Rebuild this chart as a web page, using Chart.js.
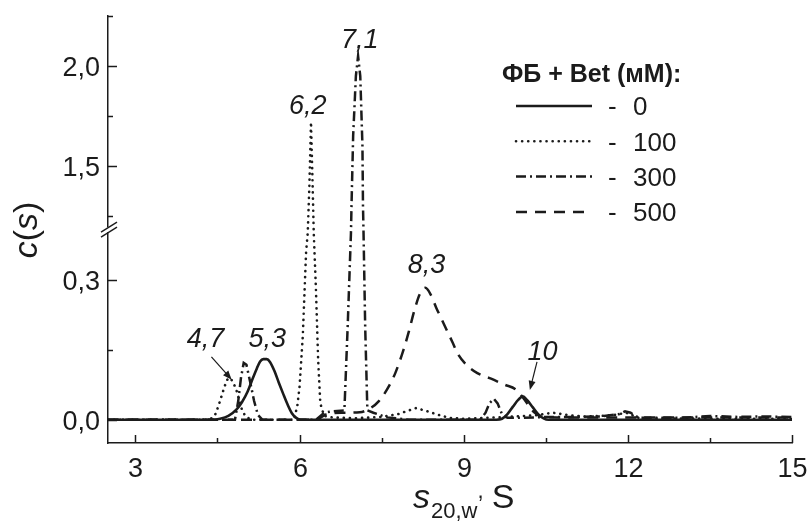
<!DOCTYPE html>
<html>
<head>
<meta charset="utf-8">
<title>c(s)</title>
<script src="https://cdn.jsdelivr.net/npm/chart.js@4.4.0/dist/chart.umd.min.js"></script>
<style>
  html, body { margin: 0; padding: 0; background: #fff; }
</style>
</head>
<body>
<canvas id="myChart" width="810" height="523"></canvas>
<script>
const ink = '#1b1b1b';
const FONT = '"Liberation Sans", Arial, sans-serif';

// ticks
const xTicks = [3, 4.5, 6, 7.5, 9, 10.5, 12, 13.5, 15];
const xTickLabels = ['3', '', '6', '', '9', '', '12', '', '15'];
const yTicks = [0, 0.15, 0.3, 1.25, 1.5, 1.75, 2.0, 2.25];
const yTickLabels = ['0,0', '', '0,3', '', '1,5', '', '2,0', ''];

// broken y axis: values at the break points and their share of the axis height
const yBreakVals = [-0.05, 0.4, 1.2, 2.25];
const yBreakFrac = [0, 0.491, 0.508, 1];

const seriesNames = ['0', '100', '300', '500'];
const legendTitle = 'ФБ + Bet (мМ):';

// 0 mM
const s0x = [2.5, 4.4, 4.55, 4.7, 4.85, 4.95, 5.05, 5.15, 5.22, 5.28, 5.34, 5.4, 5.46, 5.54, 5.62, 5.7, 5.78, 5.86, 5.94, 6.02, 6.2,
             9.6, 9.7, 9.8, 9.9, 10.0, 10.08, 10.16, 10.26, 10.36, 10.46, 10.55, 15];
const s0y = [0, 0, 0.002, 0.008, 0.022, 0.038, 0.06, 0.09, 0.11, 0.125, 0.13, 0.13, 0.124, 0.105, 0.08, 0.056, 0.033, 0.014, 0.004, 0, 0,
             0, 0.002, 0.012, 0.028, 0.043, 0.05, 0.042, 0.027, 0.012, 0.003, 0, 0];

// 100 mM
const s1x = [2.5, 4.35, 4.45, 4.52, 4.6, 4.67, 4.73, 4.79, 4.85, 4.9, 4.95, 5.02, 5.12, 5.9, 5.96, 6.0, 6.06, 6.12, 6.15, 6.18, 6.21,
             6.24, 6.26, 6.3, 6.34, 6.38, 6.45, 6.6, 7.0, 7.5, 7.8, 7.95, 8.13, 8.34, 8.52, 8.74, 9.0, 9.4, 9.8, 10.1, 10.35,
             10.63, 10.9, 11.2, 11.5, 11.75, 11.97, 12.2, 12.6, 13.5, 15];
const s1y = [0, 0, 0.008, 0.03, 0.06, 0.085, 0.09, 0.08, 0.062, 0.042, 0.02, 0.006, 0, 0, 0.03, 0.07, 0.18, 0.36, 0.45, 1.4, 1.72,
             1.4, 0.45, 0.28, 0.13, 0.035, 0.008, 0.005, 0.003, 0.006, 0.012, 0.018, 0.025, 0.018, 0.011, 0.004, 0.002, 0.004, 0.006, 0.008, 0.01,
             0.015, 0.01, 0.007, 0.008, 0.01, 0.015, 0.004, 0.003, 0.002, 0.002];

// 300 mM
const s3x = [2.5, 4.82, 4.88, 4.93, 4.98, 5.03, 5.1, 5.17, 5.24, 5.32, 6.3, 6.45, 6.6, 6.82, 6.88, 6.94, 6.95, 6.98, 7.03, 7.07,
             7.11, 7.15, 7.16, 7.17, 7.2, 7.24, 7.35, 7.6, 8.0, 9.3, 9.4, 9.47, 9.55, 9.62, 9.7, 9.8, 10.0, 10.6, 11.0, 11.5,
             11.85, 11.95, 12.05, 12.2, 13.0, 13.5, 14.0, 14.5, 15];
const s3y = [0, 0, 0.04, 0.09, 0.122, 0.118, 0.08, 0.04, 0.01, 0, 0, 0.015, 0.018, 0.02, 0.2, 0.43, 1.3, 1.65, 1.95, 2.05,
             1.95, 1.6, 1.3, 0.43, 0.2, 0.02, 0.015, 0.005, 0, 0, 0.015, 0.035, 0.045, 0.035, 0.012, 0.004, 0.004, 0.006, 0.006, 0.007,
             0.012, 0.018, 0.015, 0.004, 0.004, 0.008, 0.006, 0.007, 0.006];

// 500 mM
const s5x = [2.5, 6.3, 6.5, 6.8, 7.1, 7.3, 7.45, 7.6, 7.75, 7.9, 8.0, 8.1, 8.2, 8.3, 8.4, 8.5, 8.6, 8.7, 8.8, 8.9, 9.05,
             9.25, 9.5, 9.75, 9.95, 10.1, 10.2, 10.3, 10.45, 10.7, 15];
const s5y = [0, 0, 0.012, 0.015, 0.016, 0.025, 0.04, 0.065, 0.1, 0.15, 0.19, 0.235, 0.27, 0.283, 0.268, 0.24, 0.215, 0.19, 0.165, 0.14, 0.118,
             0.1, 0.088, 0.075, 0.065, 0.045, 0.028, 0.015, 0.006, 0.005, 0.005];

// peak annotations (data coordinates)
const peakLabels = ['4,7', '5,3', '6,2', '7,1', '8,3', '10'];
const peakLabelX = [4.28, 5.41, 6.15, 7.1, 8.32, 10.44];
const peakLabelY = [0.176, 0.176, 1.81, 2.14, 0.336, 0.148];
const arrowFrom = [[4.39, 0.135], [10.34, 0.124]];
const arrowTo = [[4.76, 0.086], [10.21, 0.064]];

const pts = (xs, ys) => xs.map((x, i) => ({x: x, y: ys[i]}));

class BrokenScale extends Chart.LinearScale {
  getPixelForValue(value) {
    let f = 0;
    const v = yBreakVals;
    if (value <= v[0]) f = 0;
    else if (value >= v[v.length - 1]) f = 1;
    else {
      for (let i = 0; i < v.length - 1; i++) {
        if (value >= v[i] && value <= v[i + 1]) {
          f = yBreakFrac[i] + (value - v[i]) / (v[i + 1] - v[i]) * (yBreakFrac[i + 1] - yBreakFrac[i]);
          break;
        }
      }
    }
    return this.getPixelForDecimal(f);
  }
  getValueForPixel(pixel) {
    const f = this.getDecimalForPixel(pixel);
    for (let i = 0; i < yBreakFrac.length - 1; i++) {
      if (f >= yBreakFrac[i] && f <= yBreakFrac[i + 1]) {
        return yBreakVals[i] + (f - yBreakFrac[i]) / (yBreakFrac[i + 1] - yBreakFrac[i]) * (yBreakVals[i + 1] - yBreakVals[i]);
      }
    }
    return f < 0 ? yBreakVals[0] : yBreakVals[yBreakVals.length - 1];
  }
}
BrokenScale.id = 'broken';
BrokenScale.defaults = Chart.LinearScale.defaults;
Chart.register(BrokenScale);

// axis ticks (inside), labels, break mark, titles
const axisDecor = {
  id: 'axisDecor',
  afterDraw(chart) {
    const {ctx, chartArea: a, scales: {x, y}} = chart;
    ctx.save();
    ctx.strokeStyle = ink;
    ctx.fillStyle = ink;
    ctx.lineWidth = 1.5;
    ctx.font = '27px ' + FONT;
    ctx.textBaseline = 'alphabetic';

    yTicks.forEach((v, i) => {
      const py = Math.round(y.getPixelForValue(v)) + 0.5;
      const len = yTickLabels[i] ? 9 : 5;
      ctx.beginPath(); ctx.moveTo(a.left, py); ctx.lineTo(a.left + len, py); ctx.stroke();
      if (yTickLabels[i]) {
        ctx.textAlign = 'right';
        ctx.fillText(yTickLabels[i], a.left - 8, py + 9.7);
      }
    });
    xTicks.forEach((v, i) => {
      const px = Math.round(x.getPixelForValue(v)) + 0.5;
      const len = xTickLabels[i] ? 8 : 5;
      ctx.beginPath(); ctx.moveTo(px, a.bottom); ctx.lineTo(px, a.bottom - len); ctx.stroke();
      if (xTickLabels[i]) {
        ctx.textAlign = 'center';
        ctx.fillText(xTickLabels[i], px, a.bottom + 33.5);
      }
    });

    // break mark on the y axis
    const by = y.getPixelForValue((yBreakVals[1] + yBreakVals[2]) / 2);
    ctx.fillStyle = '#fff';
    ctx.fillRect(a.left - 2, by - 2.5, 4, 5);
    ctx.fillStyle = ink;
    ctx.lineWidth = 1.4;
    [-2.5, 2.5].forEach(d => {
      ctx.beginPath(); ctx.moveTo(a.left - 7, by + d + 5); ctx.lineTo(a.left + 9, by + d - 5); ctx.stroke();
    });

    // x title: s20,w, S
    ctx.textAlign = 'left';
    let tx = a.left + 305, base = a.bottom + 65;
    ctx.font = 'italic 34px ' + FONT;
    ctx.fillText('s', tx, base);
    tx += ctx.measureText('s').width + 1;
    ctx.font = '22px ' + FONT;
    ctx.fillText('20,w', tx, base + 10);
    tx += ctx.measureText('20,w').width;
    ctx.fillText(',', tx, base - 10);
    tx += ctx.measureText(', ').width + 2;
    ctx.font = '34px ' + FONT;
    ctx.fillText('S', tx, base);

    // y title: c(s)
    ctx.save();
    ctx.translate(37, 230);
    ctx.rotate(-Math.PI / 2);
    const parts = [['c', 'italic 34px '], ['(', '34px '], ['s', 'italic 34px '], [')', '34px ']];
    let w = 0;
    parts.forEach(p => { ctx.font = p[1] + FONT; w += ctx.measureText(p[0]).width; });
    let cx = -w / 2;
    parts.forEach(p => { ctx.font = p[1] + FONT; ctx.fillText(p[0], cx, 0); cx += ctx.measureText(p[0]).width; });
    ctx.restore();

    ctx.restore();
  }
};

// peak labels and arrows
const peakNotes = {
  id: 'peakNotes',
  afterDatasetsDraw(chart) {
    const {ctx, scales: {x, y}} = chart;
    ctx.save();
    ctx.fillStyle = ink;
    ctx.strokeStyle = ink;
    ctx.font = 'italic 27px ' + FONT;
    ctx.textAlign = 'center';
    ctx.textBaseline = 'alphabetic';
    peakLabels.forEach((t, i) => {
      ctx.fillText(t, x.getPixelForValue(peakLabelX[i]), y.getPixelForValue(peakLabelY[i]) + 9.7);
    });
    ctx.lineWidth = 1.2;
    arrowFrom.forEach((f, i) => {
      const x1 = x.getPixelForValue(f[0]), y1 = y.getPixelForValue(f[1]);
      const x2 = x.getPixelForValue(arrowTo[i][0]), y2 = y.getPixelForValue(arrowTo[i][1]);
      const ang = Math.atan2(y2 - y1, x2 - x1);
      ctx.beginPath(); ctx.moveTo(x1, y1); ctx.lineTo(x2 - 6 * Math.cos(ang), y2 - 6 * Math.sin(ang)); ctx.stroke();
      ctx.beginPath();
      ctx.moveTo(x2, y2);
      ctx.lineTo(x2 - 9 * Math.cos(ang) + 3.5 * Math.sin(ang), y2 - 9 * Math.sin(ang) - 3.5 * Math.cos(ang));
      ctx.lineTo(x2 - 9 * Math.cos(ang) - 3.5 * Math.sin(ang), y2 - 9 * Math.sin(ang) + 3.5 * Math.cos(ang));
      ctx.closePath(); ctx.fill();
    });
    ctx.restore();
  }
};

// legend in the upper right
const sideLegend = {
  id: 'sideLegend',
  afterDraw(chart) {
    const {ctx, chartArea: a} = chart;
    const left = a.right - 290, top = a.top;
    ctx.save();
    ctx.fillStyle = ink;
    ctx.textAlign = 'left';
    ctx.textBaseline = 'alphabetic';
    ctx.font = 'bold 25px ' + FONT;
    ctx.fillText(legendTitle, left, top + 66);
    chart.data.datasets.forEach((ds, i) => {
      const ry = top + 90 + i * 35.3;
      ctx.save();
      ctx.strokeStyle = ink;
      ctx.lineWidth = ds.borderWidth;
      ctx.lineCap = ds.borderCapStyle || 'butt';
      ctx.setLineDash(ds.borderDash || []);
      ctx.beginPath(); ctx.moveTo(left + 14, ry); ctx.lineTo(left + 90, ry); ctx.stroke();
      ctx.restore();
      ctx.font = '26px ' + FONT;
      ctx.fillText('-', left + 106, ry + 9.3);
      ctx.fillText(seriesNames[i], left + 131, ry + 9.3);
    });
    ctx.restore();
  }
};

const ctx = document.getElementById('myChart').getContext('2d');
const chart = new Chart(ctx, {
  type: 'line',
  data: {
    datasets: [
      {label: seriesNames[0], data: pts(s0x, s0y), borderColor: ink, borderWidth: 2.6, pointRadius: 0,
       cubicInterpolationMode: 'monotone', fill: false},
      {label: seriesNames[1], data: pts(s1x, s1y), borderColor: ink, borderWidth: 2.6, pointRadius: 0,
       borderDash: [0.1, 6], borderCapStyle: 'round', tension: 0, fill: false},
      {label: seriesNames[2], data: pts(s3x, s3y), borderColor: ink, borderWidth: 2.5, pointRadius: 0,
       borderDash: [10, 4, 2, 4], tension: 0, fill: false},
      {label: seriesNames[3], data: pts(s5x, s5y), borderColor: ink, borderWidth: 2.5, pointRadius: 0,
       borderDash: [11, 8], cubicInterpolationMode: 'monotone', fill: false}
    ]
  },
  options: {
    responsive: false,
    animation: false,
    devicePixelRatio: 1,
    events: [],
    layout: {padding: {top: 16, right: 18, left: 0, bottom: 0}},
    plugins: {legend: {display: false}, tooltip: {enabled: false}},
    scales: {
      x: {
        type: 'linear', min: 2.5, max: 15,
        afterBuildTicks: s => { s.ticks = xTicks.map(v => ({value: v})); },
        afterFit: s => { s.height = 80; },
        ticks: {display: false},
        grid: {display: false, drawTicks: false},
        border: {display: true, color: ink, width: 1.5}
      },
      y: {
        type: 'broken', min: -0.05, max: 2.25,
        afterBuildTicks: s => { s.ticks = yTicks.map(v => ({value: v})); },
        afterFit: s => { s.width = 108; },
        ticks: {display: false},
        grid: {display: false, drawTicks: false},
        border: {display: true, color: ink, width: 1.5}
      }
    }
  },
  plugins: [axisDecor, peakNotes, sideLegend]
});
</script>
</body>
</html>
